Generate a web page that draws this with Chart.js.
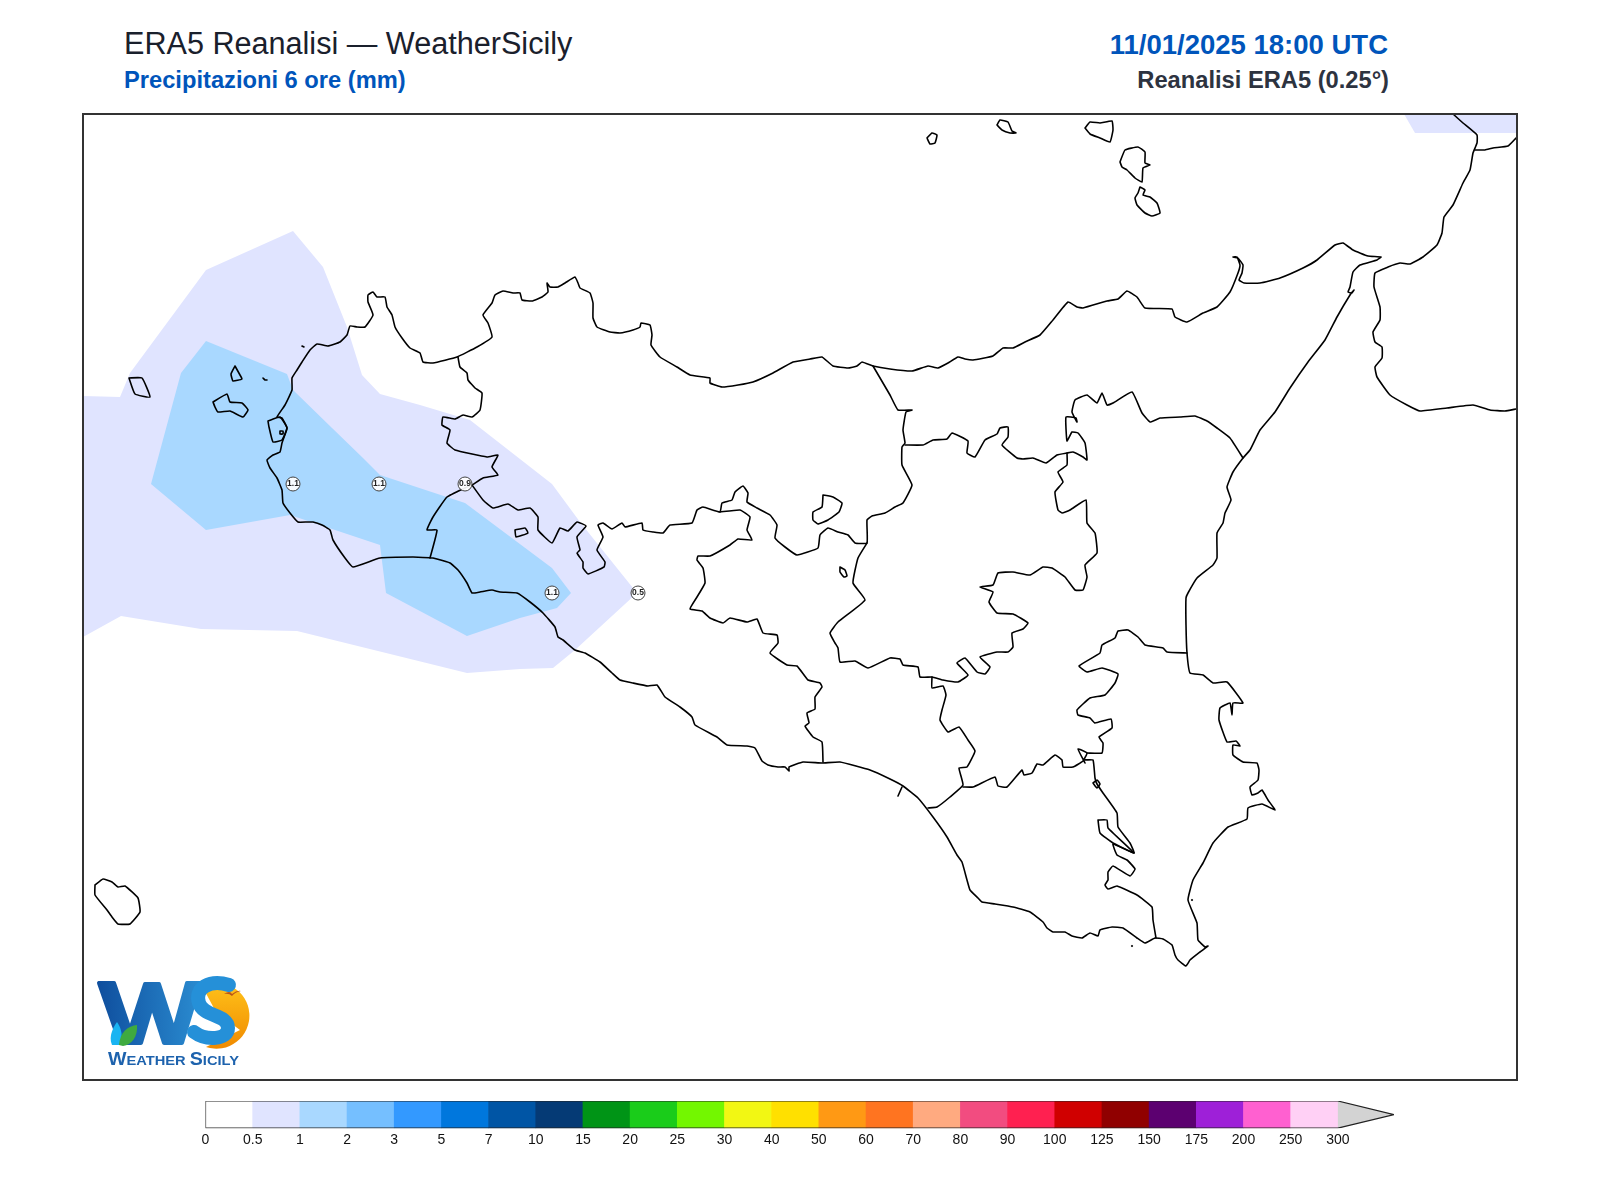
<!DOCTYPE html>
<html><head><meta charset="utf-8">
<script src="https://cdn.jsdelivr.net/npm/chart.js@4"></script>
<style>
html,body{margin:0;padding:0;background:#fff;width:1600px;height:1200px;overflow:hidden}
body{position:relative;font-family:"Liberation Sans",Arial,sans-serif}
.t{position:absolute;white-space:nowrap;line-height:1}
canvas{position:absolute}
#frame{position:absolute;left:82px;top:113px;width:1432px;height:964px;border:2px solid #333;pointer-events:none}
#logo{position:absolute;left:90px;top:970px}
</style></head><body>
<div class="t" style="left:124px;top:28px;font-size:30.6px;color:#1a202c">ERA5 Reanalisi — WeatherSicily</div>
<div class="t" style="left:124px;top:69px;font-size:23.7px;font-weight:bold;color:#0055bb">Precipitazioni 6 ore (mm)</div>
<div class="t" style="right:212px;top:31px;font-size:27.5px;font-weight:bold;color:#0055bb">11/01/2025 18:00 UTC</div>
<div class="t" style="right:211px;top:69px;font-size:23.7px;font-weight:bold;color:#2d3340">Reanalisi ERA5 (0.25°)</div>
<canvas id="map" width="1433" height="965" style="left:83px;top:114px;width:1433px;height:965px"></canvas>
<canvas id="bar" width="1240" height="59" style="left:180px;top:1094px;width:1240px;height:59px"></canvas>
<div id="frame"></div>
<svg id="logo" width="170" height="110" viewBox="0 0 170 110">
<defs>
<linearGradient id="gw" x1="0" y1="0" x2="1" y2="0"><stop offset="0" stop-color="#0f4f9e"/><stop offset="1" stop-color="#2a8bd0"/></linearGradient>
<linearGradient id="go" x1="0" y1="0" x2="0" y2="1"><stop offset="0" stop-color="#ffc21a"/><stop offset="1" stop-color="#f08a00"/></linearGradient>
</defs>
<path d="M9 13 L24 13 L40 60 L55 14 L69 14 L84 60 L97 13 L110 13 L92 73 L74 73 L62 36 L51 73 L30 73 Z" fill="url(#gw)" stroke="url(#gw)" stroke-width="4" stroke-linejoin="round"/>
<path d="M112 16 A33 33 0 1 1 116 77 L150 60 L126 42 Z" fill="url(#go)"/>
<path d="M139 15 C120 9 104 18 109 33 C113 47 138 44 138 58 C138 70 116 71 104 62" fill="none" stroke="#2590d8" stroke-width="14" stroke-linecap="round"/>
<path d="M22 75 C18 66 24 56 27 52 C31 58 34 66 29 75 Z" fill="#19b4f2"/>
<path d="M29 75 C30 62 38 56 47 55 C48 66 42 75 33 76 Z" fill="#3faa3f"/>
<path d="M134 24 q6 -4 8 0 q5 -4 9 -3 q-6 1 -9 5 q-3 -3 -8 -2 Z" fill="#b8551a"/>
<text x="18" y="95" font-family="Liberation Sans, Arial, sans-serif" font-weight="bold" fill="#1d62ad" font-size="13.5" textLength="131" lengthAdjust="spacingAndGlyphs"><tspan font-size="18">W</tspan>EATHER <tspan font-size="18">S</tspan>ICILY</text>
</svg>
<script>
// ---- Map outlines, in the map grid of the frame ----
const coast=[[433,558],[413,557],[380,558],[353,567],[345,558],[333,540],[330,530],[322,525],[313,522],[307,522],[298,522],[290,513],[283,503],[282,490],[277,478],[270,468],[267,460],[273,455],[280,452],[282,443],[287,428],[282,418],[277,417],[285,405],[292,390],[292,378],[297,370],[302,362],[310,350],[317,344],[328,346],[340,342],[347,335],[350,326],[357,327],[365,327],[373,315],[368,302],[368,295],[373,292],[377,297],[385,297],[387,307],[392,315],[395,327],[402,338],[410,348],[420,353],[423,362],[433,363],[457,357],[477,347],[492,337],[488,323],[483,315],[492,303],[495,295],[503,291],[513,293],[520,293],[522,300],[532,301],[542,297],[548,292],[547,283],[550,287],[558,287],[565,283],[575,277],[578,283],[580,288],[590,293],[593,303],[593,318],[597,327],[610,332],[620,333],[633,330],[640,327],[641,323],[650,325],[652,335],[651,345],[660,357],[677,367],[690,375],[710,378],[710,383],[722,387],[738,385],[753,382],[773,373],[793,362],[810,359],[822,357],[833,366],[848,368],[857,366],[862,362],[873,366],[890,369],[912,371],[928,366],[938,368],[948,363],[958,357],[965,359],[973,360],[993,356],[1003,348],[1013,348],[1025,342],[1040,335],[1053,320],[1068,302],[1077,307],[1083,308],[1107,301],[1118,299],[1127,291],[1137,297],[1145,308],[1172,309],[1175,317],[1187,322],[1203,313],[1217,307],[1230,292],[1238,273],[1240,265],[1237,257],[1233,257],[1238,258],[1243,265],[1242,273],[1239,280],[1244,283],[1260,283],[1280,278],[1303,268],[1317,260],[1335,245],[1343,243],[1353,250],[1368,256],[1381,257],[1377,260],[1360,265],[1353,272],[1350,287],[1348,292],[1352,293],[1354,290],[1350,295],[1337,317],[1325,340],[1308,362],[1290,388],[1275,412],[1260,430],[1250,450],[1243,458],[1233,472],[1227,487],[1231,500],[1225,513],[1223,523],[1217,533],[1217,558],[1213,565],[1197,578],[1188,593],[1186,598],[1186,625],[1187,653],[1190,673],[1203,675],[1213,683],[1227,682],[1243,703],[1233,703],[1232,715],[1230,703],[1220,708],[1219,720],[1227,742],[1236,741],[1240,746],[1233,745],[1233,755],[1243,762],[1257,763],[1259,770],[1258,780],[1250,787],[1252,795],[1258,793],[1262,790],[1268,800],[1275,810],[1262,804],[1248,808],[1247,819],[1228,827],[1213,843],[1203,863],[1193,880],[1188,900],[1197,923],[1198,940],[1205,947],[1208,946],[1200,952],[1190,960],[1186,966],[1178,960],[1175,955],[1172,945],[1163,939],[1155,938],[1145,943],[1137,938],[1123,928],[1112,927],[1100,930],[1098,936],[1090,933],[1082,938],[1072,936],[1065,932],[1053,932],[1047,928],[1043,922],[1030,912],[1013,907],[995,904],[982,902],[978,898],[970,890],[967,880],[962,862],[957,855],[947,837],[933,817],[918,798],[903,786],[890,779],[870,770],[840,762],[822,763],[803,762],[789,767],[789,771],[785,767],[778,767],[768,765],[762,761],[755,748],[747,746],[727,745],[717,737],[695,725],[692,717],[680,707],[665,697],[657,685],[648,686],[633,683],[620,680],[612,673],[600,662],[585,653],[575,650],[563,640],[558,637],[555,627],[543,613],[530,602],[517,593],[500,592],[492,590],[480,592],[472,593],[467,583],[458,570],[450,563],[433,558]];
const borderTrapani=[[458,357],[460,367],[467,373],[468,380],[475,388],[482,393],[480,410],[472,417],[463,415],[455,419],[443,417],[442,425],[450,430],[447,443],[455,450],[487,457],[498,455],[492,467],[498,475],[483,478],[472,485],[465,488],[447,497],[433,517],[427,530],[437,530],[430,558]];
const borderPalermo=[[472,485],[483,500],[493,508],[508,504],[518,510],[530,508],[538,517],[538,530],[552,543],[560,528],[568,531],[577,522],[586,526],[577,537],[580,550],[577,553],[583,562],[583,568],[588,574],[604,567],[605,562],[597,550],[603,537],[598,525],[603,523],[612,529],[622,523],[625,527],[642,523],[643,530],[653,532],[663,533],[670,525],[692,523],[697,510],[703,507],[720,512],[722,503],[732,500],[735,492],[743,486],[748,493],[747,502],[757,508],[770,515],[777,525],[775,538],[785,547],[797,555],[818,548],[820,535],[828,528],[838,532],[848,535],[855,543],[867,543],[867,520],[872,516],[885,513],[895,507],[903,503],[912,485],[902,465],[902,447],[905,443],[903,430],[906,412],[912,410],[898,410],[890,395],[873,366]];
const borderMessina=[[905,445],[923,445],[933,440],[947,439],[952,433],[968,441],[967,453],[975,457],[985,440],[997,434],[1000,428],[1008,427],[1008,437],[1002,445],[1017,458],[1023,459],[1033,458],[1046,463],[1057,455],[1067,453],[1073,452],[1083,457],[1087,460],[1085,443],[1078,433],[1072,432],[1067,441],[1066,417],[1076,418],[1077,422],[1072,412],[1075,400],[1087,395],[1097,403],[1102,393],[1107,405],[1113,403],[1132,392],[1142,413],[1150,422],[1160,418],[1180,417],[1195,416],[1207,421],[1217,428],[1230,438],[1243,458]];
const borderEnna=[[1067,453],[1067,465],[1058,472],[1063,482],[1055,492],[1058,510],[1062,513],[1070,510],[1086,500],[1087,523],[1095,533],[1097,553],[1085,565],[1087,577],[1083,590],[1075,590],[1065,577],[1052,568],[1043,567],[1030,575],[1013,572],[998,573],[993,585],[980,587],[993,592],[989,602],[997,613],[1013,614],[1028,623],[1023,629],[1012,633],[1013,647],[1008,652],[997,652],[980,657],[990,667],[985,674],[977,672],[965,658],[957,663],[968,675],[958,682],[943,680],[932,677],[920,677],[918,667],[903,665],[900,659],[890,658],[868,668],[855,661],[840,662],[838,648],[835,643],[830,633],[838,622],[865,600],[853,583],[858,558],[867,543]];
const borderAgrigento=[[720,512],[740,510],[750,517],[747,530],[752,540],[738,539],[730,545],[710,556],[698,556],[697,560],[703,568],[705,583],[697,597],[690,609],[702,611],[710,618],[723,623],[730,618],[747,622],[757,619],[763,633],[777,635],[778,643],[770,653],[787,665],[797,666],[808,680],[820,683],[822,687],[815,697],[815,709],[807,713],[809,723],[805,726],[813,737],[822,742],[823,762]];
const borderCaltanissetta=[[932,677],[932,688],[943,686],[946,695],[942,710],[940,720],[948,732],[959,727],[968,740],[975,751],[967,767],[959,768],[963,785],[950,797],[937,807],[928,808]];
const borderRagusa=[[963,787],[973,787],[995,777],[998,786],[1007,787],[1022,770],[1024,775],[1032,773],[1037,764],[1043,765],[1055,755],[1062,760],[1063,767],[1073,767],[1083,761],[1087,753],[1078,749],[1085,763]];
const borderCatania=[[1087,753],[1102,753],[1103,743],[1099,737],[1112,728],[1111,719],[1095,723],[1090,718],[1078,715],[1077,710],[1090,698],[1105,695],[1115,683],[1118,674],[1102,668],[1087,672],[1079,666],[1100,653],[1102,645],[1115,638],[1118,631],[1128,630],[1138,637],[1145,645],[1163,648],[1167,652],[1187,653]];
const borderSiracusa=[[1084,760],[1093,760],[1095,778],[1097,784],[1103,793],[1117,813],[1118,827],[1130,843],[1134,853],[1113,844],[1117,855],[1127,860],[1135,869],[1130,876],[1113,866],[1108,872],[1108,880],[1105,885],[1108,889],[1117,886],[1137,895],[1152,907],[1153,920],[1156,938]];
const lagoonSiracusa=[[1098,820],[1107,820],[1108,828],[1134,853],[1113,843],[1100,833],[1098,820]];
const lakeA=[[1093,783],[1097,780],[1100,784],[1097,788],[1093,783]];
const lakeB=[[840,567],[845,570],[847,576],[844,577],[840,572],[840,567]];
const lakeC=[[515,530],[525,528],[528,533],[516,537],[515,530]];
const lakeD=[[823,495],[833,497],[842,503],[839,512],[828,520],[818,524],[813,520],[813,512],[822,507],[823,495]];
const stubGela=[[902,787],[898,796]];
const stagnone=[[268,421],[280,417],[287,428],[282,440],[273,442],[269,427],[268,421]];
const mozia=[[280,431],[283,431],[283,434],[280,434],[280,431]];
const favignana=[[213,402],[227,394],[230,402],[242,403],[248,410],[243,417],[230,411],[218,412],[215,407],[213,402]];
const levanzo=[[235,366],[240,375],[242,379],[233,381],[231,374],[235,366]];
const formica=[[263,378],[265,380],[267,380]];
const marettimo=[[129,378],[142,378],[150,397],[135,394],[129,378]];
const isolotto=[[302,346],[304,347]];
const pantelleria=[[95,885],[103,879],[112,882],[118,887],[125,886],[138,898],[140,912],[130,924],[118,924],[112,917],[107,910],[95,895],[95,885]];
const alicudi=[[927,138],[932,133],[937,135],[935,143],[930,144],[927,138]];
const filicudi=[[997,125],[1000,120],[1008,122],[1012,131],[1016,133],[1010,133],[1002,130],[997,125]];
const salina=[[1085,128],[1090,122],[1100,123],[1112,121],[1113,130],[1110,142],[1100,138],[1090,134],[1085,128]];
const lipari=[[1120,162],[1125,150],[1138,147],[1145,152],[1145,163],[1150,165],[1143,168],[1142,182],[1135,178],[1127,170],[1122,167],[1120,162]];
const vulcano=[[1140,187],[1145,190],[1143,195],[1150,197],[1157,203],[1160,213],[1152,216],[1145,213],[1137,205],[1135,198],[1138,193],[1140,187]];
const calabria=[[1453,114],[1463,123],[1477,135],[1477,143],[1473,153],[1470,170],[1463,183],[1453,205],[1444,217],[1442,233],[1437,245],[1423,257],[1410,264],[1400,263],[1388,267],[1375,273],[1374,287],[1380,307],[1380,320],[1373,332],[1375,342],[1382,347],[1382,358],[1375,367],[1377,377],[1390,395],[1407,405],[1420,411],[1447,408],[1473,405],[1490,410],[1505,411],[1516,409]];
const calabriaBorder=[[1475,150],[1485,150],[1493,148],[1508,146],[1516,138]];
const coastDots=[[1132,946],[1192,900]];

// ---- Precipitation areas ----
const rainLight=[[83,396],[120,397],[130,373],[206,270],[293,231],[323,267],[347,327],[362,375],[380,394],[420,405],[470,420],[552,484],[580,522],[637,593],[575,650],[553,668],[520,669],[467,673],[297,631],[201,629],[121,616],[83,637],[83,396]];
const rainMedium=[[206,341],[287,374],[293,390],[332,428],[363,458],[380,475],[465,503],[552,568],[571,593],[557,608],[520,618],[467,636],[386,593],[380,545],[290,515],[206,530],[151,484],[181,373],[206,341]];
const rainCorner=[[1404,114],[1415,133],[1516,133],[1516,114],[1404,114]];

// ---- Grid point values ----
const gridX=[293,379,465,552,638];
const gridY=[484,484,484,593,593];
const gridValues=[1.1,1.1,0.9,1.1,0.5];

// ---- Colour bar ----
const barTicks=['0','0.5','1','2','3','5','7','10','15','20','25','30','40','50','60','70','80','90','100','125','150','175','200','250','300'];
const barColors=['#ffffff','#e0e4ff','#a9d8ff','#75bfff','#3399ff','#0077dd','#0055a5','#053a75','#009416','#1acc1a','#73f700','#f2f713','#ffe000','#ff9914','#ff7420','#ffaa80','#f24c80','#ff2050','#d00000','#900000','#5c0070','#9e20d8','#ff60d0','#ffd0f5'];
const arrowLen=1.19;

const pts=a=>a.map(([x,y])=>({x,y}));
const area=(a,c,o)=>({type:'line',data:pts(a),fill:'shape',backgroundColor:c,borderWidth:0,borderColor:c,pointRadius:0,tension:0,order:o});
const line=(a,w)=>({type:'line',data:pts(a),fill:false,borderColor:'#000',borderWidth:w||1.6,pointRadius:0,tension:0.12,order:5,borderJoinStyle:'round',borderCapStyle:'round'});

const outlines=[coast,borderTrapani,borderPalermo,borderMessina,borderEnna,borderAgrigento,borderCaltanissetta,borderRagusa,borderCatania,borderSiracusa,lagoonSiracusa,lakeA,lakeB,lakeC,lakeD,stubGela,stagnone,mozia,favignana,levanzo,formica,marettimo,isolotto,pantelleria,alicudi,filicudi,salina,lipari,vulcano,calabria,calabriaBorder];

const labelPlugin={id:'gridLabels',afterDatasetsDraw(c){
  const ds=c.data.datasets.findIndex(d=>d.label==='grid');
  const m=c.getDatasetMeta(ds),x=c.ctx;
  x.save();x.font='bold 8.5px "Liberation Sans",Arial,sans-serif';x.fillStyle='#222';x.textAlign='center';x.textBaseline='middle';
  m.data.forEach((p,i)=>x.fillText(gridValues[i].toFixed(1),p.x,p.y));
  x.restore();
}};

new Chart(document.getElementById('map'),{
 type:'scatter',
 data:{datasets:[
  area(rainLight,'#e0e4ff',30),area(rainCorner,'#e0e4ff',30),area(rainMedium,'#a9d8ff',20),
  ...outlines.map(a=>line(a)),
  {type:'scatter',label:'coastDots',data:pts(coastDots),pointRadius:1,backgroundColor:'#000',order:4},
  {type:'scatter',label:'grid',data:gridX.map((x,i)=>({x,y:gridY[i]})),pointRadius:7,pointBackgroundColor:'rgba(255,255,255,.92)',pointBorderColor:'#444',pointBorderWidth:1,order:1}
 ]},
 options:{responsive:false,animation:false,devicePixelRatio:1,
  layout:{padding:0,autoPadding:false},
  plugins:{legend:{display:false},tooltip:{enabled:false},title:{display:false}},
  scales:{x:{type:'linear',min:83,max:1516,display:false},y:{type:'linear',min:114,max:1079,reverse:true,display:false}}},
 plugins:[labelPlugin]
});

const nBins=barColors.length;
new Chart(document.getElementById('bar'),{
 type:'bar',
 data:{datasets:[
  {type:'bar',data:barColors.map((c,i)=>({x:i+0.5,y:1})),backgroundColor:barColors,borderWidth:0,barPercentage:1,categoryPercentage:1,order:3},
  {type:'line',data:[{x:nBins,y:0},{x:nBins+arrowLen,y:0.5},{x:nBins,y:1},{x:nBins,y:0}],fill:'shape',backgroundColor:'#d3d3d3',borderWidth:0,pointRadius:0,tension:0,order:2},
  {type:'line',data:[{x:nBins,y:1},{x:0,y:1},{x:0,y:0},{x:nBins,y:0},{x:nBins+arrowLen,y:0.5},{x:nBins,y:1}],fill:false,borderColor:'#222',borderWidth:1.2,pointRadius:0,tension:0,order:1}
 ]},
 options:{responsive:false,animation:false,devicePixelRatio:1,
  layout:{padding:{left:25.5,right:26,top:7,bottom:0},autoPadding:false},
  plugins:{legend:{display:false},tooltip:{enabled:false}},
  scales:{
   x:{type:'linear',offset:false,min:0,max:nBins+arrowLen,grid:{display:false,drawTicks:false,offset:false},border:{display:false},
      afterBuildTicks(s){s.ticks=barTicks.map((_,i)=>({value:i}));},
      ticks:{autoSkip:false,maxRotation:0,padding:4,color:'#111',font:{family:'"Liberation Sans",Arial,sans-serif',size:14},callback:(v)=>barTicks[v]}},
   y:{type:'linear',min:0,max:1,display:false}
  }}
});
</script>
</body></html>
